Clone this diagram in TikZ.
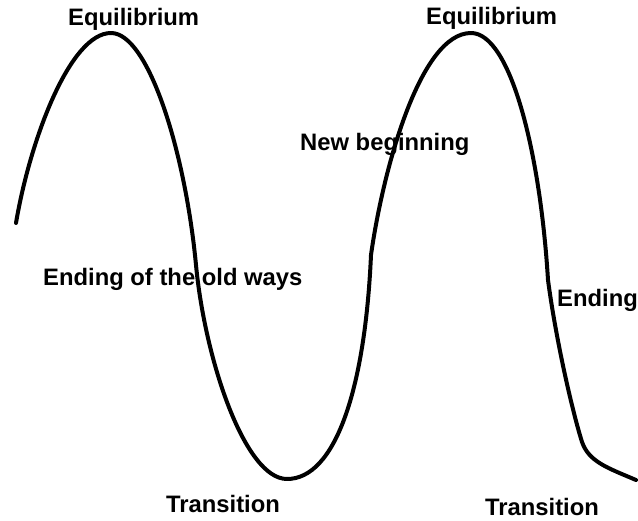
\documentclass[tikz,border=0pt]{standalone}
\usepackage{fontspec}
\setmainfont{Liberation Sans}
\begin{document}
\begin{tikzpicture}[x=1pt,y=-1pt,
  lbl/.style={anchor=base west,inner sep=0pt,font=\bfseries\fontsize{23.8}{28}\selectfont},
  wave/.style={line width=4pt,line cap=round,line join=round}]
\useasboundingbox (0,0) rectangle (638,521);
\draw[wave] (16,223) .. controls (30,140) and (70,33) .. (111,33)
  .. controls (148,33) and (185,150) .. (196,265)
  .. controls (205,360) and (245,479) .. (287,479)
  .. controls (335,479) and (365,390) .. (371,255)
  .. controls (383,170) and (420,33) .. (471,33)
  .. controls (510,33) and (540,150) .. (548,280)
  .. controls (556,340) and (572,410) .. (582,442)
  .. controls (589,462) and (608,468) .. (636,480);
\node[lbl] (eq1) at (68,26) {Equilibrium};
\node[lbl] (eq2) at (426,25) {Equilibrium};
\node[lbl] (nb) at (300,151) {New beginning};
\node[lbl] (eold) at (43,286) {Ending of the old ways};
\node[lbl] (end) at (557,307) {Ending};
\node[lbl] (tr1) at (166,513) {Transition};
\node[lbl] (tr2) at (485,515) {Transition};
\end{tikzpicture}
\end{document}
